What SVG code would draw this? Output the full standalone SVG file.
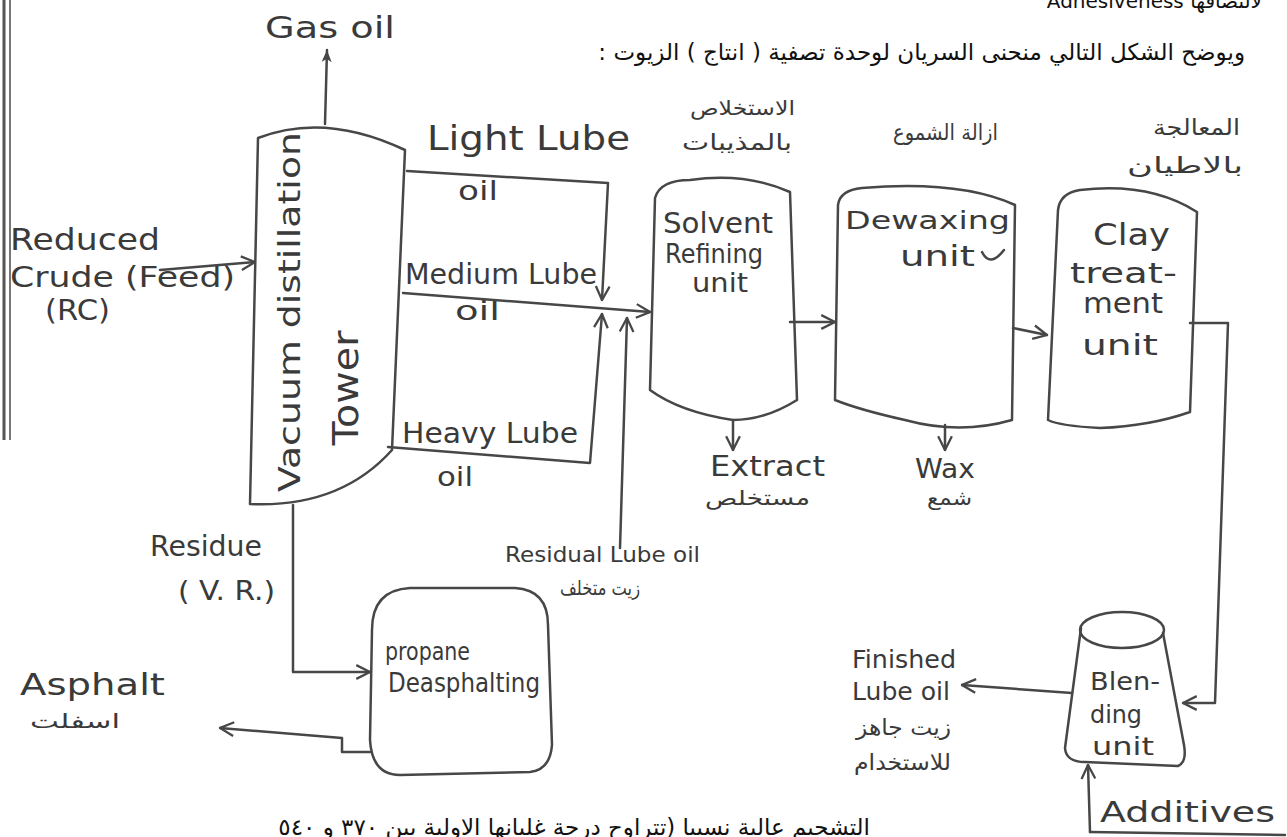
<svg xmlns="http://www.w3.org/2000/svg" width="1287" height="837" viewBox="0 0 1287 837">
<defs>
<style>
.ln{fill:none;stroke:#474747;stroke-width:2.5;stroke-linecap:round;stroke-linejoin:round}
.hw{font-family:"DejaVu Sans",sans-serif;fill:#3a3a3a}
.ar{font-family:"DejaVu Sans",sans-serif;fill:#3a3a3a}
.pr{font-family:"DejaVu Sans","Liberation Sans",sans-serif;fill:#111}
</style>
<marker id="chev" viewBox="0 0 14 14" refX="13" refY="7" markerWidth="16" markerHeight="16" markerUnits="userSpaceOnUse" orient="auto">
<path d="M1,1 L13,7 L1,13" fill="none" stroke="#474747" stroke-width="2"/>
</marker>
<marker id="solid" viewBox="0 0 14 14" refX="13" refY="7" markerWidth="18" markerHeight="14" markerUnits="userSpaceOnUse" orient="auto">
<path d="M1,2 L13,7 L1,12 L4,7 Z" fill="#474747"/>
</marker>
</defs>
<rect width="1287" height="837" fill="#fff"/>

<!-- page border -->
<line x1="4" y1="0" x2="4" y2="440" stroke="#555" stroke-width="3"/>
<line x1="10" y1="0" x2="10" y2="440" stroke="#777" stroke-width="2"/>

<!-- printed text -->
<text class="pr" x="1262" y="8" font-size="20" direction="rtl" text-anchor="start">لالتصاقها Adhesiveness</text>
<text class="pr" x="1245" y="60" font-size="23" direction="rtl" text-anchor="start">ويوضح الشكل التالي منحنى السريان لوحدة تصفية ( انتاج ) الزيوت :</text>
<text class="pr" x="870" y="835" font-size="23" direction="rtl" text-anchor="start">التشحيم عالية نسبيا (تتراوح درجة غليانها الاولية بين ٣٧٠ و ٥٤٠</text>

<g id="tower">
<path class="ln" d="M258,138 Q325,112 405,150 L392,450 Q340,508 250,504 Z"/>
<text class="hw" font-size="30" text-anchor="middle" textLength="360" lengthAdjust="spacingAndGlyphs" transform="translate(300,312) rotate(-90)">Vacuum distillation</text>
<text class="hw" font-size="36" text-anchor="middle" textLength="115" lengthAdjust="spacingAndGlyphs" transform="translate(358,388) rotate(-90)">Tower</text>
</g>

<g id="feed">
<text class="hw" x="10" y="250" font-size="30" textLength="150" lengthAdjust="spacingAndGlyphs">Reduced</text>
<text class="hw" x="10" y="287" font-size="28" textLength="225" lengthAdjust="spacingAndGlyphs">Crude (Feed)</text>
<text class="hw" x="45" y="320" font-size="28" textLength="65" lengthAdjust="spacingAndGlyphs">(RC)</text>
</g>

<g id="gasoil">
<text class="hw" x="265" y="38" font-size="30" textLength="130" lengthAdjust="spacingAndGlyphs">Gas oil</text>
</g>

<g id="light-lube">
<text class="hw" x="427" y="150" font-size="34" textLength="203" lengthAdjust="spacingAndGlyphs">Light Lube</text>
<text class="hw" x="458" y="200" font-size="26" textLength="40" lengthAdjust="spacingAndGlyphs">oil</text>
</g>
<g id="medium-lube">
<text class="hw" x="405" y="284" font-size="28" textLength="192" lengthAdjust="spacingAndGlyphs">Medium Lube</text>
<text class="hw" x="455" y="320" font-size="26" textLength="45" lengthAdjust="spacingAndGlyphs">oil</text>
</g>
<g id="heavy-lube">
<text class="hw" x="402" y="443" font-size="28" textLength="176" lengthAdjust="spacingAndGlyphs">Heavy Lube</text>
<text class="hw" x="437" y="486" font-size="26" textLength="36" lengthAdjust="spacingAndGlyphs">oil</text>
</g>

<g id="solvent">
<path class="ln" d="M650,390 L655,198 Q660,180 690,180 Q745,172 790,192 L797,400 Q765,420 733,420 Q680,412 650,390 Z"/>
<text class="hw" x="663" y="233" font-size="28" textLength="110" lengthAdjust="spacingAndGlyphs">Solvent</text>
<text class="hw" x="665" y="263" font-size="26" textLength="98" lengthAdjust="spacingAndGlyphs">Refining</text>
<text class="hw" x="692" y="292" font-size="26" textLength="56" lengthAdjust="spacingAndGlyphs">unit</text>
<text class="ar" x="690" y="115" font-size="20" textLength="105" lengthAdjust="spacingAndGlyphs">الاستخلاص</text>
<text class="ar" x="682" y="150" font-size="22" textLength="110" lengthAdjust="spacingAndGlyphs">بالمذيبات</text>
</g>

<g id="extract">
<text class="hw" x="710" y="476" font-size="28" textLength="115" lengthAdjust="spacingAndGlyphs">Extract</text>
<text class="ar" x="705" y="505" font-size="20" textLength="105" lengthAdjust="spacingAndGlyphs">مستخلص</text>
</g>

<g id="dewaxing">
<path class="ln" d="M835,400 L838,205 Q840,190 862,188 Q960,180 1015,205 L1012,420 Q960,435 905,420 Q860,410 835,400 Z"/>
<text class="hw" x="845" y="229" font-size="24" textLength="165" lengthAdjust="spacingAndGlyphs">Dewaxing</text>
<text class="hw" x="900" y="266" font-size="28" textLength="75" lengthAdjust="spacingAndGlyphs">unit</text>
<path class="ln" d="M982,252 Q990,268 1004,250" stroke-width="2"/>
<text class="ar" x="893" y="140" font-size="22" textLength="105" lengthAdjust="spacingAndGlyphs">ازالة الشموع</text>
</g>

<g id="wax">
<text class="hw" x="915" y="478" font-size="26" textLength="60" lengthAdjust="spacingAndGlyphs">Wax</text>
<text class="ar" x="927" y="505" font-size="20" textLength="45" lengthAdjust="spacingAndGlyphs">شمع</text>
</g>

<g id="clay">
<path class="ln" d="M1048,420 L1058,210 Q1060,193 1080,190 Q1150,182 1197,212 L1190,412 Q1150,426 1100,428 Q1060,426 1048,420 Z"/>
<text class="hw" x="1093" y="245" font-size="30" textLength="77" lengthAdjust="spacingAndGlyphs">Clay</text>
<text class="hw" x="1070" y="283" font-size="28" textLength="107" lengthAdjust="spacingAndGlyphs">treat-</text>
<text class="hw" x="1083" y="313" font-size="28" textLength="80" lengthAdjust="spacingAndGlyphs">ment</text>
<text class="hw" x="1082" y="355" font-size="28" textLength="76" lengthAdjust="spacingAndGlyphs">unit</text>
<text class="ar" x="1153" y="135" font-size="22" textLength="87" lengthAdjust="spacingAndGlyphs">المعالجة</text>
<text class="ar" x="1127" y="173" font-size="22" textLength="116" lengthAdjust="spacingAndGlyphs">بالاطيان</text>
</g>

<g id="propane">
<path class="ln" d="M372,630 Q372,590 410,588 L515,588 Q548,590 548,625 L552,745 Q550,770 530,772 L400,775 Q372,775 370,740 Z"/>
<text class="hw" x="385" y="660" font-size="24" textLength="85" lengthAdjust="spacingAndGlyphs">propane</text>
<text class="hw" x="388" y="692" font-size="26" textLength="152" lengthAdjust="spacingAndGlyphs">Deasphalting</text>
</g>

<g id="residue">
<text class="hw" x="150" y="556" font-size="28" textLength="112" lengthAdjust="spacingAndGlyphs">Residue</text>
<text class="hw" x="178" y="600" font-size="26" textLength="97" lengthAdjust="spacingAndGlyphs">( V. R.)</text>
</g>

<g id="residual-lube">
<text class="hw" x="505" y="562" font-size="22" textLength="195" lengthAdjust="spacingAndGlyphs">Residual Lube oil</text>
<text class="ar" x="560" y="595" font-size="20" textLength="80" lengthAdjust="spacingAndGlyphs">زيت متخلف</text>
</g>

<g id="asphalt">
<text class="hw" x="20" y="695" font-size="30" textLength="145" lengthAdjust="spacingAndGlyphs">Asphalt</text>
<text class="ar" x="30" y="728" font-size="20" textLength="90" lengthAdjust="spacingAndGlyphs">اسفلت</text>
</g>

<g id="blending">
<ellipse class="ln" cx="1122" cy="630" rx="42" ry="18"/>
<path class="ln" d="M1081,628 L1065,748 Q1066,762 1085,762 L1178,766 Q1187,762 1184,745 L1163,633"/>
<text class="hw" x="1090" y="690" font-size="24" textLength="70" lengthAdjust="spacingAndGlyphs">Blen-</text>
<text class="hw" x="1090" y="723" font-size="24" textLength="52" lengthAdjust="spacingAndGlyphs">ding</text>
<text class="hw" x="1092" y="755" font-size="24" textLength="62" lengthAdjust="spacingAndGlyphs">unit</text>
</g>

<g id="finished">
<text class="hw" x="852" y="668" font-size="24" textLength="104" lengthAdjust="spacingAndGlyphs">Finished</text>
<text class="hw" x="852" y="700" font-size="24" textLength="98" lengthAdjust="spacingAndGlyphs">Lube oil</text>
<text class="ar" x="856" y="735" font-size="22" textLength="95" lengthAdjust="spacingAndGlyphs">زيت جاهز</text>
<text class="ar" x="854" y="770" font-size="22" textLength="97" lengthAdjust="spacingAndGlyphs">للاستخدام</text>
</g>

<g id="additives">
<text class="hw" x="1100" y="822" font-size="28" textLength="175" lengthAdjust="spacingAndGlyphs">Additives</text>
</g>

<g id="connectors">
<path class="ln" d="M325,124 L327,50" marker-end="url(#solid)"/>
<path class="ln" d="M160,270 L255,262" marker-end="url(#chev)"/>
<path class="ln" d="M407,171 L608,183 L602,300" marker-end="url(#chev)"/>
<path class="ln" d="M388,447 L590,463 L602,314" marker-end="url(#chev)"/>
<path class="ln" d="M403,293 L650,312" marker-end="url(#chev)"/>
<path class="ln" d="M620,548 L627,318" marker-end="url(#chev)"/>
<path class="ln" d="M733,420 L733,450" marker-end="url(#chev)"/>
<path class="ln" d="M790,322 L835,322" marker-end="url(#chev)"/>
<path class="ln" d="M945,425 L945,450" marker-end="url(#chev)"/>
<path class="ln" d="M1013,328 L1047,335" marker-end="url(#chev)"/>
<path class="ln" d="M1190,323 L1228,323 L1215,703 L1183,703" marker-end="url(#chev)"/>
<path class="ln" d="M1072,693 L962,685" marker-end="url(#chev)"/>
<path class="ln" d="M1090,832 L1088,765" marker-end="url(#chev)"/>
<path class="ln" d="M1090,832 L1285,835"/>
<path class="ln" d="M293,505 L293,672 L370,672" marker-end="url(#chev)"/>
<path class="ln" d="M370,752 L342,752 L342,738 L220,728" marker-end="url(#chev)"/>
</g>
</svg>
